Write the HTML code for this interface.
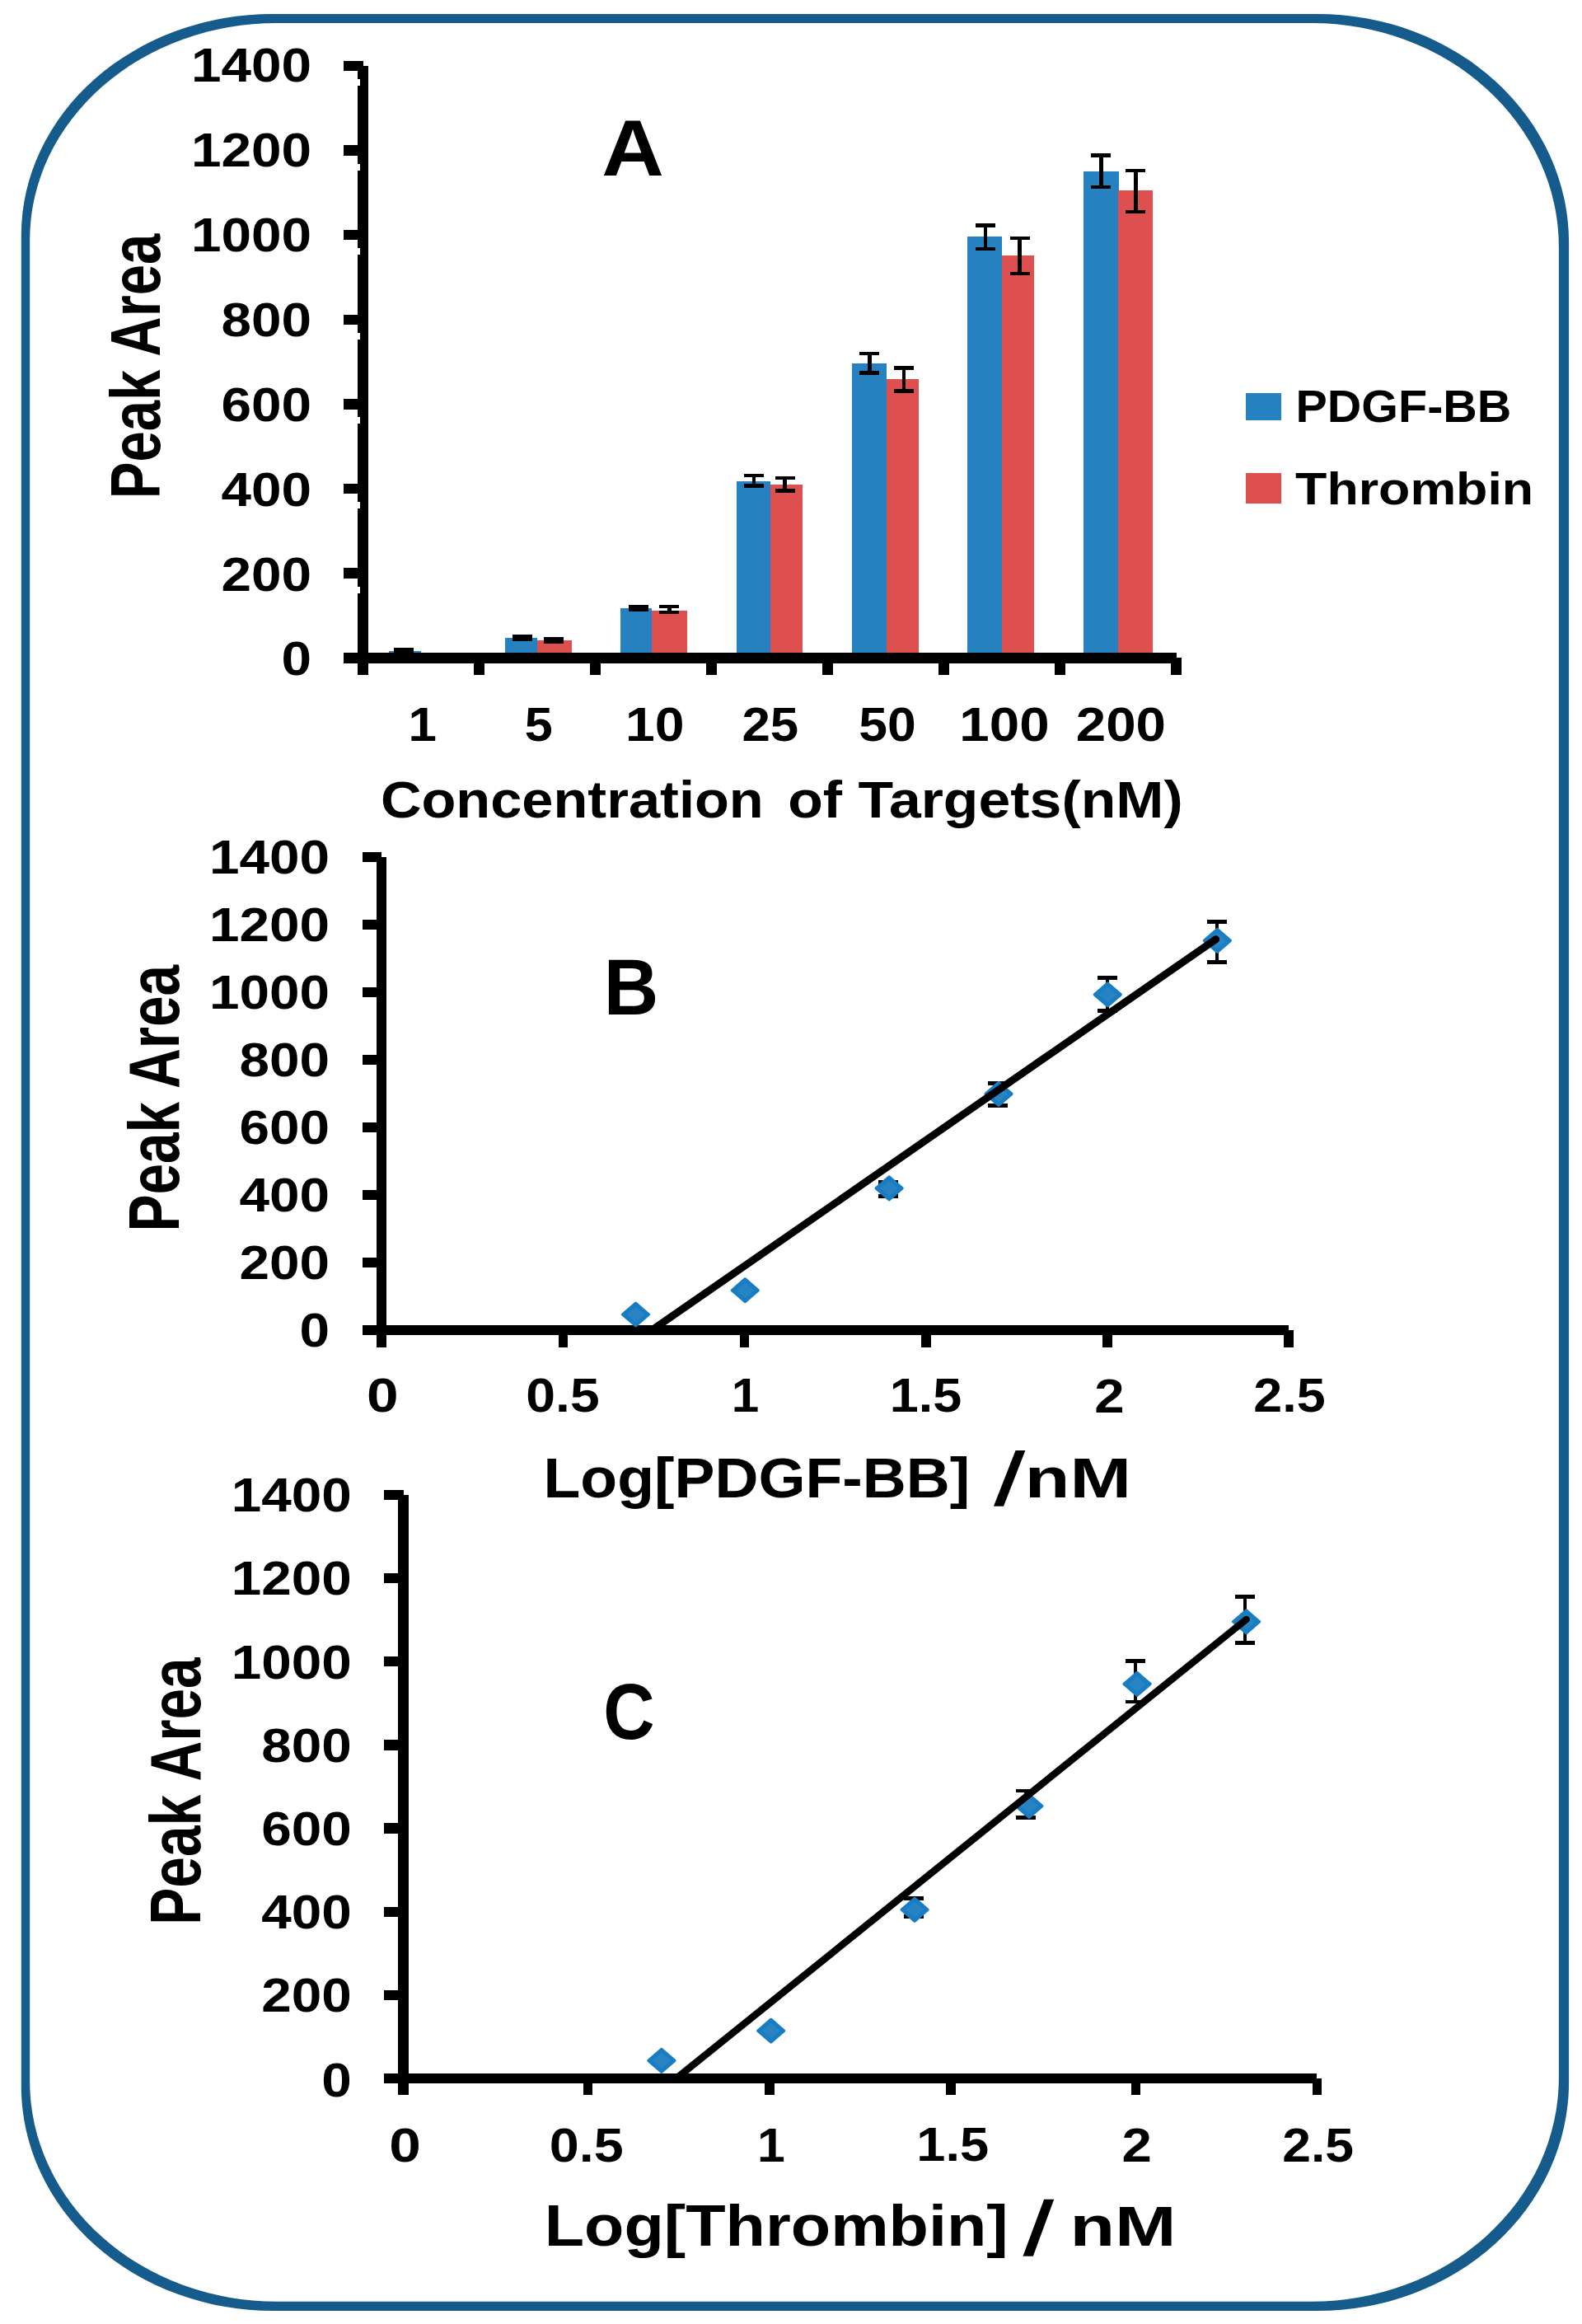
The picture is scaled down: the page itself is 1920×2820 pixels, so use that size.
<!DOCTYPE html>
<html lang="en"><head><meta charset="utf-8"><title>Peak area versus target concentration</title>
<style>
html,body{margin:0;padding:0;background:#fff}
body{width:1920px;height:2820px;overflow:hidden}
svg{display:block}
svg text{font-family:"Liberation Sans",sans-serif;font-weight:bold;font-size:100px;fill:#000}
</style></head><body>
<svg width="1920" height="2820" viewBox="0 0 1920 2820">
<rect x="0" y="0" width="1920" height="2820" fill="#fff"/>
<path d="M331.4 16.9 L1598.5 16.9 A305.6 277.6 0 0 1 1904.1 294.5 L1904.1 2526.5 A305.6 277.6 0 0 1 1598.5 2804.1 L331.4 2804.1 A305.6 272.6 0 0 1 25.8 2531.5 L25.8 285.5 A305.6 268.6 0 0 1 331.4 16.9Z M336.2 28 L1591.9 28 A300 272 0 0 1 1891.9 300 L1891.9 2520.8 A300 272 0 0 1 1591.9 2792.8 L336.2 2792.8 A300 267 0 0 1 36.2 2525.8 L36.2 291 A300 263 0 0 1 336.2 28Z" fill="#155C8D" fill-rule="evenodd"/>
<g shape-rendering="crispEdges">
<rect x="472" y="790" width="38.8" height="3" fill="#2581C0"/>
<rect x="613.3" y="773.7" width="38.5" height="19.3" fill="#2581C0"/>
<rect x="651.8" y="777" width="41.9" height="16" fill="#DD504F"/>
<rect x="752.9" y="737.9" width="38.5" height="55.1" fill="#2581C0"/>
<rect x="791.4" y="741" width="42.5" height="52" fill="#DD504F"/>
<rect x="893.8" y="584" width="41.2" height="209" fill="#2581C0"/>
<rect x="935" y="588" width="39" height="205" fill="#DD504F"/>
<rect x="1034.2" y="441.1" width="41.6" height="351.9" fill="#2581C0"/>
<rect x="1075.8" y="459.8" width="39.2" height="333.2" fill="#DD504F"/>
<rect x="1173.7" y="287" width="42.5" height="506" fill="#2581C0"/>
<rect x="1216.2" y="310" width="38.8" height="483" fill="#DD504F"/>
<rect x="1315.1" y="208" width="42.4" height="585" fill="#2581C0"/>
<rect x="1357" y="231.1" width="42" height="561.9" fill="#DD504F"/>
<rect x="477.5" y="785.9" width="24" height="4.4" fill="#000"/>
<rect x="477.5" y="788.6" width="24" height="4.4" fill="#000"/>
<rect x="487.1" y="785.9" width="4.8" height="7.1" fill="#000"/>
<rect x="622" y="770" width="24" height="4.4" fill="#000"/>
<rect x="622" y="773.6" width="24" height="4.4" fill="#000"/>
<rect x="631.6" y="770" width="4.8" height="8" fill="#000"/>
<rect x="660" y="773" width="24" height="4.4" fill="#000"/>
<rect x="660" y="776.6" width="24" height="4.4" fill="#000"/>
<rect x="669.6" y="773" width="4.8" height="8" fill="#000"/>
<rect x="762.5" y="734" width="24" height="4.4" fill="#000"/>
<rect x="762.5" y="737.5" width="24" height="4.4" fill="#000"/>
<rect x="772.1" y="734" width="4.8" height="7.9" fill="#000"/>
<rect x="800.4" y="734" width="24" height="4.4" fill="#000"/>
<rect x="800.4" y="740.6" width="24" height="4.4" fill="#000"/>
<rect x="810" y="734" width="4.8" height="11" fill="#000"/>
<rect x="902.9" y="574.6" width="24" height="4.4" fill="#000"/>
<rect x="902.9" y="587.2" width="24" height="4.4" fill="#000"/>
<rect x="912.5" y="574.6" width="4.8" height="17" fill="#000"/>
<rect x="940.8" y="577.5" width="24" height="4.4" fill="#000"/>
<rect x="940.8" y="593.3" width="24" height="4.4" fill="#000"/>
<rect x="950.4" y="577.5" width="4.8" height="20.2" fill="#000"/>
<rect x="1043.3" y="427" width="24" height="4.4" fill="#000"/>
<rect x="1043.3" y="450.1" width="24" height="4.4" fill="#000"/>
<rect x="1052.9" y="427" width="4.8" height="27.5" fill="#000"/>
<rect x="1084.9" y="444.4" width="24" height="4.4" fill="#000"/>
<rect x="1084.9" y="472.3" width="24" height="4.4" fill="#000"/>
<rect x="1094.5" y="444.4" width="4.8" height="32.3" fill="#000"/>
<rect x="1184" y="271.2" width="24" height="4.4" fill="#000"/>
<rect x="1184" y="299.6" width="24" height="4.4" fill="#000"/>
<rect x="1193.6" y="271.2" width="4.8" height="32.8" fill="#000"/>
<rect x="1225.5" y="287" width="24" height="4.4" fill="#000"/>
<rect x="1225.5" y="329.6" width="24" height="4.4" fill="#000"/>
<rect x="1235.1" y="287" width="4.8" height="47" fill="#000"/>
<rect x="1324.3" y="186.1" width="24" height="4.4" fill="#000"/>
<rect x="1324.3" y="224.7" width="24" height="4.4" fill="#000"/>
<rect x="1333.9" y="186.1" width="4.8" height="43" fill="#000"/>
<rect x="1366.3" y="205" width="24" height="4.4" fill="#000"/>
<rect x="1366.3" y="254.5" width="24" height="4.4" fill="#000"/>
<rect x="1375.9" y="205" width="4.8" height="53.9" fill="#000"/>
<rect x="434.2" y="80" width="12.5" height="738.6" fill="#000"/>
<rect x="417" y="792.2" width="1010.9" height="12.6" fill="#000"/>
<rect x="417" y="689.486" width="23.8" height="12.4" fill="#000"/>
<rect x="434.2" y="711.686" width="2.8" height="8" fill="#fff"/>
<rect x="417" y="586.871" width="23.8" height="12.4" fill="#000"/>
<rect x="434.2" y="609.071" width="2.8" height="8" fill="#fff"/>
<rect x="417" y="484.257" width="23.8" height="12.4" fill="#000"/>
<rect x="434.2" y="506.457" width="2.8" height="8" fill="#fff"/>
<rect x="417" y="381.643" width="23.8" height="12.4" fill="#000"/>
<rect x="434.2" y="403.843" width="2.8" height="8" fill="#fff"/>
<rect x="417" y="279.029" width="23.8" height="12.4" fill="#000"/>
<rect x="434.2" y="301.229" width="2.8" height="8" fill="#fff"/>
<rect x="417" y="176.414" width="23.8" height="12.4" fill="#000"/>
<rect x="434.2" y="198.614" width="2.8" height="8" fill="#fff"/>
<rect x="417" y="73.8" width="23.8" height="12.4" fill="#000"/>
<rect x="434.2" y="96" width="2.8" height="8" fill="#fff"/>
<rect x="575.37" y="798.2" width="12.6" height="20.7" fill="#000"/>
<rect x="716.34" y="798.2" width="12.6" height="20.7" fill="#000"/>
<rect x="857.31" y="798.2" width="12.6" height="20.7" fill="#000"/>
<rect x="998.28" y="798.2" width="12.6" height="20.7" fill="#000"/>
<rect x="1139.25" y="798.2" width="12.6" height="20.7" fill="#000"/>
<rect x="1280.22" y="798.2" width="12.6" height="20.7" fill="#000"/>
<rect x="1421.19" y="798.2" width="12.6" height="20.7" fill="#000"/>
<rect x="1511.8" y="477" width="43.2" height="32.9" fill="#2581C0"/>
<rect x="1511.8" y="574" width="43.2" height="37" fill="#DD504F"/>
<rect x="457.1" y="1040" width="12" height="594.9" fill="#000"/>
<rect x="440" y="1608.2" width="1124.2" height="12.2" fill="#000"/>
<rect x="440" y="1525.971" width="23" height="12.4" fill="#000"/>
<rect x="440" y="1443.943" width="23" height="12.4" fill="#000"/>
<rect x="440" y="1361.914" width="23" height="12.4" fill="#000"/>
<rect x="440" y="1279.886" width="23" height="12.4" fill="#000"/>
<rect x="440" y="1197.857" width="23" height="12.4" fill="#000"/>
<rect x="440" y="1115.829" width="23" height="12.4" fill="#000"/>
<rect x="440" y="1033.8" width="23" height="12.4" fill="#000"/>
<rect x="677.6" y="1614.3" width="11.6" height="20.2" fill="#000"/>
<rect x="897.8" y="1614.3" width="11.6" height="20.2" fill="#000"/>
<rect x="1118" y="1614.3" width="11.6" height="20.2" fill="#000"/>
<rect x="1338.2" y="1614.3" width="11.6" height="20.2" fill="#000"/>
<rect x="1558.4" y="1614.3" width="11.6" height="20.2" fill="#000"/>
<rect x="1065.9" y="1432" width="24" height="4.8" fill="#000"/>
<rect x="1065.9" y="1449.1" width="24" height="4.8" fill="#000"/>
<rect x="1075.7" y="1432" width="4.4" height="21.9" fill="#000"/>
<rect x="1198.8" y="1312" width="24" height="4.8" fill="#000"/>
<rect x="1198.8" y="1338.8" width="24" height="4.8" fill="#000"/>
<rect x="1208.6" y="1312" width="4.4" height="31.6" fill="#000"/>
<rect x="1331.7" y="1184.2" width="24" height="4.8" fill="#000"/>
<rect x="1331.7" y="1223.9" width="24" height="4.8" fill="#000"/>
<rect x="1341.5" y="1184.2" width="4.4" height="44.5" fill="#000"/>
<rect x="1464.8" y="1116.3" width="24" height="4.8" fill="#000"/>
<rect x="1464.8" y="1164.9" width="24" height="4.8" fill="#000"/>
<rect x="1474.6" y="1116.3" width="4.4" height="53.4" fill="#000"/>
<rect x="483" y="1814" width="13.2" height="727.9" fill="#000"/>
<rect x="465.9" y="2516" width="1132.5" height="12.1" fill="#000"/>
<rect x="465.9" y="2414.657" width="24.1" height="12.4" fill="#000"/>
<rect x="465.9" y="2313.514" width="24.1" height="12.4" fill="#000"/>
<rect x="465.9" y="2212.371" width="24.1" height="12.4" fill="#000"/>
<rect x="465.9" y="2111.229" width="24.1" height="12.4" fill="#000"/>
<rect x="465.9" y="2010.086" width="24.1" height="12.4" fill="#000"/>
<rect x="465.9" y="1908.943" width="24.1" height="12.4" fill="#000"/>
<rect x="465.9" y="1807.8" width="24.1" height="12.4" fill="#000"/>
<rect x="707.6" y="2522" width="11.6" height="19.9" fill="#000"/>
<rect x="928.4" y="2522" width="11.6" height="19.9" fill="#000"/>
<rect x="1148.4" y="2522" width="11.6" height="19.9" fill="#000"/>
<rect x="1372.5" y="2522" width="11.6" height="19.9" fill="#000"/>
<rect x="1592.8" y="2522" width="11.6" height="19.9" fill="#000"/>
<rect x="1096.5" y="2301" width="24" height="4.8" fill="#000"/>
<rect x="1096.5" y="2323.1" width="24" height="4.8" fill="#000"/>
<rect x="1106.3" y="2301" width="4.4" height="26.9" fill="#000"/>
<rect x="1232.8" y="2170.5" width="24" height="4.8" fill="#000"/>
<rect x="1232.8" y="2202.9" width="24" height="4.8" fill="#000"/>
<rect x="1242.6" y="2170.5" width="4.4" height="37.2" fill="#000"/>
<rect x="1365.9" y="2013" width="24" height="4.8" fill="#000"/>
<rect x="1365.9" y="2062.5" width="24" height="4.8" fill="#000"/>
<rect x="1375.7" y="2013" width="4.4" height="54.3" fill="#000"/>
<rect x="1499" y="1935.4" width="24" height="4.8" fill="#000"/>
<rect x="1499" y="1991.2" width="24" height="4.8" fill="#000"/>
<rect x="1508.8" y="1935.4" width="4.4" height="60.6" fill="#000"/>
</g>
<g>
<path d="M755.6 1595 L771.5 1581.2 L787.4 1595 L771.5 1608.8Z" fill="#187DC2" stroke="#187DC2" stroke-width="3.4" stroke-linejoin="round"/>
<path d="M760.5 1595 L771.5 1585.5 L782.5 1595 L771.5 1604.5Z" fill="#2783C2"/>
<path d="M888.4 1565.7 L904.3 1551.9 L920.2 1565.7 L904.3 1579.5Z" fill="#187DC2" stroke="#187DC2" stroke-width="3.4" stroke-linejoin="round"/>
<path d="M893.3 1565.7 L904.3 1556.2 L915.3 1565.7 L904.3 1575.2Z" fill="#2783C2"/>
<path d="M1063.2 1441.9 L1079.1 1428.1 L1095 1441.9 L1079.1 1455.7Z" fill="#187DC2" stroke="#187DC2" stroke-width="3.4" stroke-linejoin="round"/>
<path d="M1068.1 1441.9 L1079.1 1432.4 L1090.1 1441.9 L1079.1 1451.4Z" fill="#2783C2"/>
<path d="M1196.1 1327.4 L1212 1313.6 L1227.9 1327.4 L1212 1341.2Z" fill="#187DC2" stroke="#187DC2" stroke-width="3.4" stroke-linejoin="round"/>
<path d="M1201 1327.4 L1212 1317.9 L1223 1327.4 L1212 1336.9Z" fill="#2783C2"/>
<path d="M1328.4 1206.9 L1344.3 1193.1 L1360.2 1206.9 L1344.3 1220.7Z" fill="#187DC2" stroke="#187DC2" stroke-width="3.4" stroke-linejoin="round"/>
<path d="M1333.3 1206.9 L1344.3 1197.4 L1355.3 1206.9 L1344.3 1216.4Z" fill="#2783C2"/>
<path d="M1461.5 1141.4 L1477.4 1127.6 L1493.3 1141.4 L1477.4 1155.2Z" fill="#187DC2" stroke="#187DC2" stroke-width="3.4" stroke-linejoin="round"/>
<path d="M1466.4 1141.4 L1477.4 1131.9 L1488.4 1141.4 L1477.4 1150.9Z" fill="#2783C2"/>
<path d="M795.5 1611.059 L1475.6 1139.75" stroke="#000" stroke-width="9" stroke-linecap="round" fill="none"/>
<path d="M787 2500.4 L802.9 2486.6 L818.8 2500.4 L802.9 2514.2Z" fill="#187DC2" stroke="#187DC2" stroke-width="3.4" stroke-linejoin="round"/>
<path d="M791.9 2500.4 L802.9 2490.9 L813.9 2500.4 L802.9 2509.9Z" fill="#2783C2"/>
<path d="M919.8 2464.2 L935.7 2450.4 L951.6 2464.2 L935.7 2478Z" fill="#187DC2" stroke="#187DC2" stroke-width="3.4" stroke-linejoin="round"/>
<path d="M924.7 2464.2 L935.7 2454.7 L946.7 2464.2 L935.7 2473.7Z" fill="#2783C2"/>
<path d="M1094.2 2317.3 L1110.1 2303.5 L1126 2317.3 L1110.1 2331.1Z" fill="#187DC2" stroke="#187DC2" stroke-width="3.4" stroke-linejoin="round"/>
<path d="M1099.1 2317.3 L1110.1 2307.8 L1121.1 2317.3 L1110.1 2326.8Z" fill="#2783C2"/>
<path d="M1233.1 2191.5 L1249 2177.7 L1264.9 2191.5 L1249 2205.3Z" fill="#187DC2" stroke="#187DC2" stroke-width="3.4" stroke-linejoin="round"/>
<path d="M1238 2191.5 L1249 2182 L1260 2191.5 L1249 2201Z" fill="#2783C2"/>
<path d="M1364.2 2043.4 L1380.1 2029.6 L1396 2043.4 L1380.1 2057.2Z" fill="#187DC2" stroke="#187DC2" stroke-width="3.4" stroke-linejoin="round"/>
<path d="M1369.1 2043.4 L1380.1 2033.9 L1391.1 2043.4 L1380.1 2052.9Z" fill="#2783C2"/>
<path d="M1496.7 1967.8 L1512.6 1954 L1528.5 1967.8 L1512.6 1981.6Z" fill="#187DC2" stroke="#187DC2" stroke-width="3.4" stroke-linejoin="round"/>
<path d="M1501.6 1967.8 L1512.6 1958.3 L1523.6 1967.8 L1512.6 1977.3Z" fill="#2783C2"/>
<path d="M824 2519.323 L1512.6 1965" stroke="#000" stroke-width="8.6" stroke-linecap="round" fill="none"/>
<text transform="matrix(0.657 0 0 0.579 341.569 819.42)">0</text>
<text transform="matrix(0.657 0 0 0.579 268.512 716.564)">200</text>
<text transform="matrix(0.657 0 0 0.579 268.512 613.707)">400</text>
<text transform="matrix(0.657 0 0 0.579 268.512 510.85)">600</text>
<text transform="matrix(0.657 0 0 0.579 268.512 407.993)">800</text>
<text transform="matrix(0.657 0 0 0.579 231.984 305.135)">1000</text>
<text transform="matrix(0.657 0 0 0.579 231.984 202.279)">1200</text>
<text transform="matrix(0.657 0 0 0.579 231.984 99.421)">1400</text>
<text transform="matrix(0.619 0 0 0.579 495.602 899.022)">1</text>
<text transform="matrix(0.612 0 0 0.579 636.776 898.732)">5</text>
<text transform="matrix(0.643 0 0 0.579 758.952 899.021)">10</text>
<text transform="matrix(0.618 0 0 0.579 900.408 899.022)">25</text>
<text transform="matrix(0.624 0 0 0.579 1042.288 899.021)">50</text>
<text transform="matrix(0.655 0 0 0.579 1164.324 899.021)">100</text>
<text transform="matrix(0.655 0 0 0.579 1305.729 899.022)">200</text>
<text transform="matrix(0.657 0 0 0.579 363.469 1633.92)">0</text>
<text transform="matrix(0.657 0 0 0.579 290.412 1551.893)">200</text>
<text transform="matrix(0.657 0 0 0.579 290.412 1469.864)">400</text>
<text transform="matrix(0.657 0 0 0.579 290.412 1387.835)">600</text>
<text transform="matrix(0.657 0 0 0.579 290.412 1305.807)">800</text>
<text transform="matrix(0.657 0 0 0.579 253.884 1223.778)">1000</text>
<text transform="matrix(0.657 0 0 0.579 253.884 1141.75)">1200</text>
<text transform="matrix(0.657 0 0 0.579 253.884 1059.721)">1400</text>
<text transform="matrix(0.694 0 0 0.579 445.057 1713.32)">0</text>
<text transform="matrix(0.643 0 0 0.579 638.36 1713.32)">0.5</text>
<text transform="matrix(0.602 0 0 0.579 887.71 1713.322)">1</text>
<text transform="matrix(0.63 0 0 0.579 1079.78 1713.032)">1.5</text>
<text transform="matrix(0.654 0 0 0.579 1328.283 1713.611)">2</text>
<text transform="matrix(0.628 0 0 0.579 1521.323 1713.322)">2.5</text>
<text transform="matrix(0.657 0 0 0.579 390.369 2543.52)">0</text>
<text transform="matrix(0.657 0 0 0.579 317.312 2441.079)">200</text>
<text transform="matrix(0.657 0 0 0.579 317.312 2339.935)">400</text>
<text transform="matrix(0.657 0 0 0.579 317.312 2238.793)">600</text>
<text transform="matrix(0.657 0 0 0.579 317.312 2137.65)">800</text>
<text transform="matrix(0.657 0 0 0.579 280.784 2036.507)">1000</text>
<text transform="matrix(0.657 0 0 0.579 280.784 1935.364)">1200</text>
<text transform="matrix(0.657 0 0 0.579 280.784 1834.221)">1400</text>
<text transform="matrix(0.694 0 0 0.579 472.157 2622.52)">0</text>
<text transform="matrix(0.647 0 0 0.579 666.742 2622.52)">0.5</text>
<text transform="matrix(0.608 0 0 0.579 919.02 2622.522)">1</text>
<text transform="matrix(0.632 0 0 0.579 1112.27 2622.232)">1.5</text>
<text transform="matrix(0.654 0 0 0.579 1361.583 2622.811)">2</text>
<text transform="matrix(0.625 0 0 0.579 1556.133 2622.522)">2.5</text>
<text transform="matrix(1.047 0 0 0.96 730.13 212.9)">A</text>
<text transform="matrix(0.922 0 0 0.965 732.637 1231.3)">B</text>
<text transform="matrix(0.864 0 0 0.968 732.355 2110.332)">C</text>
<text transform="matrix(0.575 0 0 0.558 1572.457 511.742)">PDGF-BB</text>
<text transform="matrix(0.627 0 0 0.558 1572.096 612.242)">Thrombin</text>
<text transform="matrix(0.686 0 0 0.632 461.884 991.7)">Concentration</text>
<text transform="matrix(0.698 0 0 0.632 956.171 991.7)">of Targets(nM)</text>
<text transform="matrix(0.734 0 0 0.684 659.493 1816.5)">Log[PDGF-BB]</text>
<text transform="matrix(1.021 0 -0.163 0.911 1205.292 1826.377)">/</text>
<text transform="matrix(0.895 0 0 0.687 1243.783 1816.7)">nM</text>
<text transform="matrix(0.792 0 0 0.7 660.703 2725.2)">Log[Thrombin]</text>
<text transform="matrix(1.042 0 -0.145 0.93 1240.834 2736.44)">/</text>
<text transform="matrix(0.895 0 0 0.678 1298.383 2725.2)">nM</text>
<text transform="matrix(0 -0.67 0.861 0 194.339 605.279)">Peak Area</text>
<text transform="matrix(0 -0.674 0.868 0 216.532 1494.507)">Peak Area</text>
<text transform="matrix(0 -0.676 0.867 0 243.233 2335.721)">Peak Area</text>
</g>
</svg>
</body></html>
